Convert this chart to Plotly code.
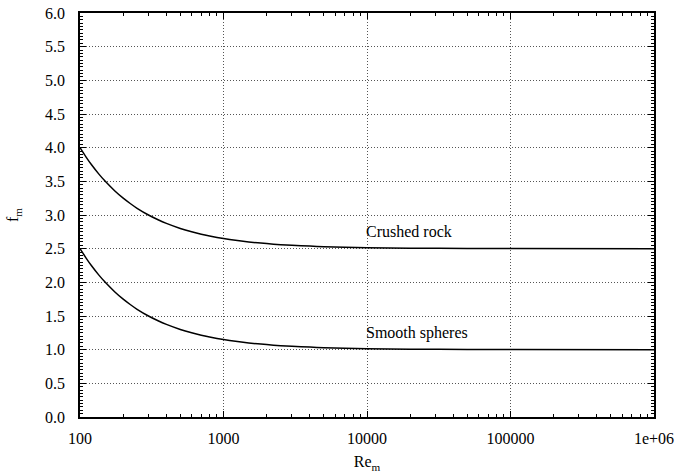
import plotly.graph_objects as go

re_m = [100, 110, 120, 135, 150, 175, 200, 225, 250, 300, 350, 400, 500, 600, 700, 800,
        1000, 1250, 1500, 2000, 2500, 3000, 4000, 5000, 7000, 10000, 20000, 50000,
        100000, 1000000]
crushed_rock = [4.0, 3.864, 3.75, 3.611, 3.5, 3.357, 3.25, 3.167, 3.1, 3.0, 2.929, 2.875,
                2.8, 2.75, 2.714, 2.688, 2.65, 2.62, 2.6, 2.575, 2.56, 2.55, 2.538, 2.53,
                2.521, 2.515, 2.508, 2.503, 2.5015, 2.5]
smooth_spheres = [2.5, 2.364, 2.25, 2.111, 2.0, 1.857, 1.75, 1.667, 1.6, 1.5, 1.429, 1.375,
                  1.3, 1.25, 1.214, 1.188, 1.15, 1.12, 1.1, 1.075, 1.06, 1.05, 1.038, 1.03,
                  1.021, 1.015, 1.008, 1.003, 1.0015, 1.0]
x_ticks = [100, 1000, 10000, 100000, 1000000]
x_tick_labels = ["100", "1000", "10000", "100000", "1e+06"]
y_ticks = [i * 0.5 for i in range(13)]
y_tick_labels = [f"{v:.1f}" for v in y_ticks]

FONT = "Times New Roman, Liberation Serif, serif"
FS = 16

fig = go.Figure()
for ys in (crushed_rock, smooth_spheres):
    fig.add_trace(go.Scatter(x=re_m, y=ys, mode="lines",
                             line=dict(color="black", width=1.5, shape="spline", smoothing=0.6),
                             showlegend=False, hoverinfo="skip"))

fig.add_annotation(x=4, y=2.75, xref="x", yref="y", text="Crushed rock",
                   showarrow=False, xanchor="left", yanchor="middle", xshift=-3,
                   font=dict(family=FONT, size=FS, color="black"))
fig.add_annotation(x=4, y=1.25, xref="x", yref="y", text="Smooth spheres",
                   showarrow=False, xanchor="left", yanchor="middle", xshift=-3,
                   font=dict(family=FONT, size=FS, color="black"))

grid = dict(showgrid=True, gridcolor="#555555", griddash="1px,2px", gridwidth=1)

fig.update_layout(
    width=698, height=473,
    margin=dict(l=80, r=44, t=13, b=56, autoexpand=False),
    paper_bgcolor="white", plot_bgcolor="white",
    font=dict(family=FONT, size=FS, color="black"),
    xaxis=dict(
        type="log", range=[2, 6], automargin=False,
        tickvals=x_ticks, ticktext=x_tick_labels,
        ticks="inside", ticklen=6, tickcolor="black",
        showline=True, linecolor="black", linewidth=1.5, mirror="allticks",
        zeroline=False, ticklabelstandoff=6,
        minor=dict(ticks="inside", ticklen=3, tickcolor="black",
                   tickvals=[m * 10 ** e for e in range(2, 6) for m in range(2, 10)],
                   showgrid=False),
        title=dict(text="Re<sub>m</sub>", standoff=10, font=dict(family=FONT, size=FS)),
        **grid,
    ),
    yaxis=dict(
        range=[0, 6], automargin=False,
        tickvals=y_ticks, ticktext=y_tick_labels,
        ticks="inside", ticklen=6, tickcolor="black",
        showline=True, linecolor="black", linewidth=1.5, mirror="allticks",
        zeroline=False, ticklabelstandoff=10,
        minor=dict(ticks="inside", ticklen=3, tickcolor="black", dtick=0.05,
                   showgrid=False),
        title=dict(text="f<sub>m</sub>", standoff=22, font=dict(family=FONT, size=FS)),
        **grid,
    ),
)

fig.write_html("out.html")
